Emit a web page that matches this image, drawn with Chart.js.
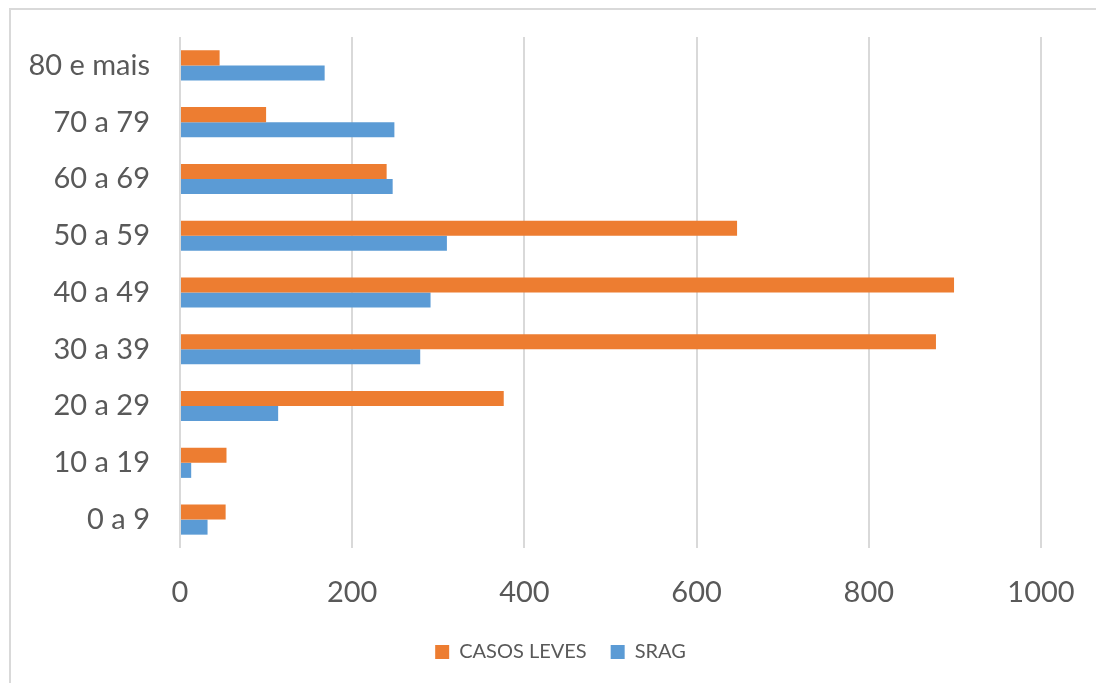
<!DOCTYPE html>
<html>
<head>
<meta charset="utf-8">
<script src="https://cdn.jsdelivr.net/npm/chart.js@4"></script>
<style>
    html, body { margin: 0; padding: 0; background: #fff; }
    #wrap { position: relative; width: 1096px; height: 683px; }
    #frame { position: absolute; left: 9px; top: 8px; width: 1100px; height: 700px; border: 2px solid #d9d9d9; box-sizing: border-box; }
    canvas { position: absolute; left: 0; top: 0; }
</style>
</head>
<body>
<div id="wrap">
    <div id="frame"></div>
    <canvas id="ageChart" width="1096" height="683"></canvas>
</div>
<script>
const categories = ['0 a 9', '10 a 19', '20 a 29', '30 a 39', '40 a 49', '50 a 59', '60 a 69', '70 a 79', '80 e mais'];
const casosLeves = [53, 54, 376, 878, 899, 647, 240, 100, 46];
const srag = [32, 13, 114, 279, 291, 310, 247, 249, 168];
const xTicks = [0, 200, 400, 600, 800, 1000];

const textColor = '#595959';
const fontFamily = 'Lato, "Open Sans", sans-serif';

// nudge the legend a bit right, like the original
const legendShift = {
    id: 'legendShift',
    afterLayout: (chart) => {
        if (chart.legend) {
            chart.legend.left += 35;
            chart.legend.right += 35;
        }
    }
};

document.addEventListener('DOMContentLoaded', () => {
    const ctx = document.getElementById('ageChart').getContext('2d');

    new Chart(ctx, {
        type: 'bar',
        data: {
            labels: categories,
            datasets: [
                {
                    label: 'CASOS LEVES',
                    data: casosLeves,
                    backgroundColor: '#ED7D31',
                    borderWidth: 0
                },
                {
                    label: 'SRAG',
                    data: srag,
                    backgroundColor: '#5B9BD5',
                    borderWidth: 0
                }
            ]
        },
        options: {
            indexAxis: 'y',
            responsive: false,
            animation: false,
            devicePixelRatio: 1,
            layout: {
                padding: { top: 37, right: 55, bottom: 11, left: 10 }
            },
            datasets: {
                bar: { barPercentage: 1, categoryPercentage: 0.53 }
            },
            scales: {
                y: {
                    reverse: true,
                    grid: { display: false },
                    border: { display: false },
                    ticks: {
                        color: textColor,
                        font: { family: fontFamily, size: 29 },
                        padding: 22
                    },
                    afterFit: (scale) => {
                        scale.width = 170;
                        scale.paddingTop = 0;
                        scale.paddingBottom = 0;
                    }
                },
                x: {
                    min: 0,
                    max: 1000,
                    afterBuildTicks: (scale) => {
                        scale.ticks = xTicks.map(v => ({ value: v }));
                    },
                    grid: { color: '#d9d9d9', lineWidth: 2, drawTicks: false },
                    border: { display: false },
                    ticks: {
                        color: textColor,
                        font: { family: fontFamily, size: 29 },
                        padding: 27,
                        callback: (value) => String(value)
                    },
                    afterFit: (scale) => {
                        scale.height = 70;
                        scale.paddingLeft = 0;
                        scale.paddingRight = 0;
                    }
                }
            },
            plugins: {
                legend: {
                    position: 'bottom',
                    labels: {
                        color: textColor,
                        font: { family: fontFamily, size: 20 },
                        boxWidth: 14,
                        boxHeight: 14,
                        padding: 24
                    }
                },
                tooltip: { enabled: false }
            }
        },
        plugins: [legendShift]
    });
});
</script>
</body>
</html>
